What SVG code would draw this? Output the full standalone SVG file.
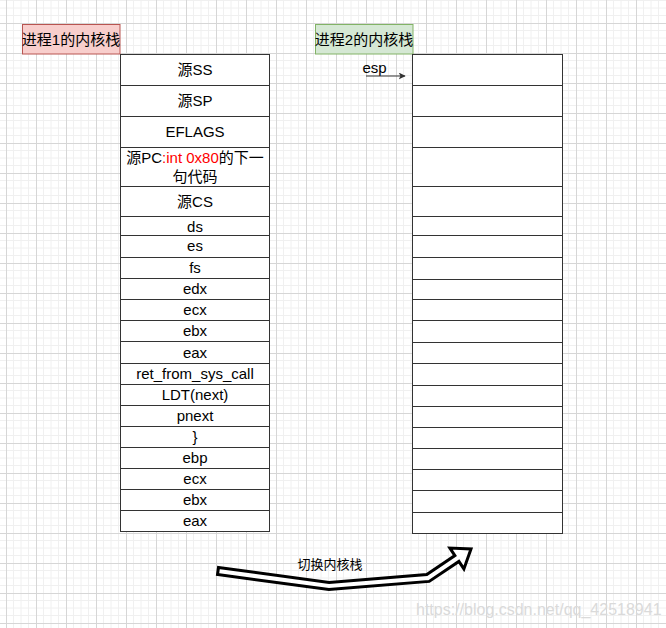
<svg xmlns="http://www.w3.org/2000/svg" width="666" height="628" viewBox="0 0 666 628">
<defs>
<pattern id="grid" x="6" y="23" width="30" height="30" patternUnits="userSpaceOnUse">
<path d="M7.5 0V30M15 0V30M22.5 0V30M0 7.5H30M0 15H30M0 22.5H30" stroke="#f0f0f0" stroke-width="1" fill="none"/>
<path d="M0.5 0V30M0 0.5H30" stroke="#d6d6d6" stroke-width="1" fill="none"/>
</pattern>
<marker id="ah" viewBox="0 0 10 10" refX="9" refY="5" markerWidth="7" markerHeight="7" orient="auto" markerUnits="userSpaceOnUse">
<path d="M0 0L10 5L0 10L2.5 5Z" fill="#333"/>
</marker>
<style>
.cell{fill:#fff;stroke:#333;stroke-width:1}
.t{font-family:"Liberation Sans","Noto Sans CJK SC",sans-serif;font-size:15px;fill:#000;text-anchor:middle}
.red{fill:#ff0000}
</style>
</defs>
<rect width="666" height="628" fill="#fff"/>
<rect width="666" height="628" fill="url(#grid)"/>

<g id="label1">
<rect x="22.5" y="24.5" width="97.5" height="29.5" fill="#f8cecc" stroke="#b85450"/>
<text class="t" x="71" y="44.5">进程1的内核栈</text>
</g>
<g id="label2">
<rect x="315.5" y="24.5" width="97.5" height="29.5" fill="#d5e8d4" stroke="#82b366"/>
<text class="t" x="364" y="44.5">进程2的内核栈</text>
</g>

<g id="stack1">
<g id="s1-1"><rect class="cell" x="120.5" y="54.5" width="149" height="31"/><text class="t" x="195" y="75">源SS</text></g>
<g id="s1-2"><rect class="cell" x="120.5" y="85.5" width="149" height="31"/><text class="t" x="195" y="106">源SP</text></g>
<g id="s1-3"><rect class="cell" x="120.5" y="116.5" width="149" height="31"/><text class="t" x="195" y="137">EFLAGS</text></g>
<g id="s1-4"><rect class="cell" x="120.5" y="147.5" width="149" height="39"/><text class="t" x="195" y="163.3">源PC<tspan class="red">:int 0x80</tspan>的下一</text><text class="t" x="195" y="181.7">句代码</text></g>
<g id="s1-5"><rect class="cell" x="120.5" y="186.5" width="149" height="30"/><text class="t" x="195" y="206.5">源CS</text></g>
<g id="s1-6"><rect class="cell" x="120.5" y="216.5" width="149" height="19"/><text class="t" x="195" y="232">ds</text></g>
<g id="s1-7"><rect class="cell" x="120.5" y="235.5" width="149" height="22"/><text class="t" x="195" y="251">es</text></g>
<g id="s1-8"><rect class="cell" x="120.5" y="257.5" width="149" height="21"/><text class="t" x="195" y="273">fs</text></g>
<g id="s1-9"><rect class="cell" x="120.5" y="278.5" width="149" height="21"/><text class="t" x="195" y="294">edx</text></g>
<g id="s1-10"><rect class="cell" x="120.5" y="299.5" width="149" height="21"/><text class="t" x="195" y="315">ecx</text></g>
<g id="s1-11"><rect class="cell" x="120.5" y="320.5" width="149" height="21"/><text class="t" x="195" y="336">ebx</text></g>
<g id="s1-12"><rect class="cell" x="120.5" y="341.5" width="149" height="22"/><text class="t" x="195" y="358">eax</text></g>
<g id="s1-13"><rect class="cell" x="120.5" y="363.5" width="149" height="21"/><text class="t" x="195" y="378.5">ret_from_sys_call</text></g>
<g id="s1-14"><rect class="cell" x="120.5" y="384.5" width="149" height="21"/><text class="t" x="195" y="400">LDT(next)</text></g>
<g id="s1-15"><rect class="cell" x="120.5" y="405.5" width="149" height="21"/><text class="t" x="195" y="420.5">pnext</text></g>
<g id="s1-16"><rect class="cell" x="120.5" y="426.5" width="149" height="21"/><text class="t" x="195" y="442">}</text></g>
<g id="s1-17"><rect class="cell" x="120.5" y="447.5" width="149" height="21"/><text class="t" x="195" y="463">ebp</text></g>
<g id="s1-18"><rect class="cell" x="120.5" y="468.5" width="149" height="21"/><text class="t" x="195" y="483.5">ecx</text></g>
<g id="s1-19"><rect class="cell" x="120.5" y="489.5" width="149" height="21"/><text class="t" x="195" y="504.5">ebx</text></g>
<g id="s1-20"><rect class="cell" x="120.5" y="510.5" width="149" height="21"/><text class="t" x="195" y="525.5">eax</text></g>
</g>

<g id="stack2">
<g id="s2-1"><rect class="cell" x="412.5" y="54.5" width="150" height="31"/></g>
<g id="s2-2"><rect class="cell" x="412.5" y="85.5" width="150" height="31"/></g>
<g id="s2-3"><rect class="cell" x="412.5" y="116.5" width="150" height="31"/></g>
<g id="s2-4"><rect class="cell" x="412.5" y="147.5" width="150" height="39"/></g>
<g id="s2-5"><rect class="cell" x="412.5" y="186.5" width="150" height="30"/></g>
<g id="s2-6"><rect class="cell" x="412.5" y="216.5" width="150" height="19"/></g>
<g id="s2-7"><rect class="cell" x="412.5" y="235.5" width="150" height="22"/></g>
<g id="s2-8"><rect class="cell" x="412.5" y="257.5" width="150" height="22"/></g>
<g id="s2-9"><rect class="cell" x="412.5" y="279.5" width="150" height="20"/></g>
<g id="s2-10"><rect class="cell" x="412.5" y="299.5" width="150" height="21"/></g>
<g id="s2-11"><rect class="cell" x="412.5" y="320.5" width="150" height="22"/></g>
<g id="s2-12"><rect class="cell" x="412.5" y="342.5" width="150" height="21"/></g>
<g id="s2-13"><rect class="cell" x="412.5" y="363.5" width="150" height="22"/></g>
<g id="s2-14"><rect class="cell" x="412.5" y="385.5" width="150" height="21"/></g>
<g id="s2-15"><rect class="cell" x="412.5" y="406.5" width="150" height="21"/></g>
<g id="s2-16"><rect class="cell" x="412.5" y="427.5" width="150" height="21"/></g>
<g id="s2-17"><rect class="cell" x="412.5" y="448.5" width="150" height="21"/></g>
<g id="s2-18"><rect class="cell" x="412.5" y="469.5" width="150" height="21"/></g>
<g id="s2-19"><rect class="cell" x="412.5" y="490.5" width="150" height="22"/></g>
<g id="s2-20"><rect class="cell" x="412.5" y="512.5" width="150" height="21"/></g>
</g>

<g id="esp-label">
<text class="t" x="374.5" y="73.3">esp</text>
</g>

<g id="connectors">
<path d="M366 76H405" stroke="#333" stroke-width="1" fill="none" marker-end="url(#ah)"/>
<polygon points="218.5,567.5 329.1,582.5 426.8,574.6 454.9,555.6 449.9,548.1 471,549 463.9,568.9 458.9,561.4 429.2,581.4 328.9,589.5 217.5,574.5" fill="#fff" stroke="#000" stroke-width="3" stroke-linejoin="miter"/>
<text x="330" y="569" font-family="'Liberation Sans','Noto Sans CJK SC',sans-serif" font-size="13" text-anchor="middle" fill="#000">切换内核栈</text>
</g>

<text x="416" y="615" font-family="'Liberation Sans',sans-serif" font-size="16" fill="#dadada">https://blog.csdn.net/qq_42518941</text>
</svg>
